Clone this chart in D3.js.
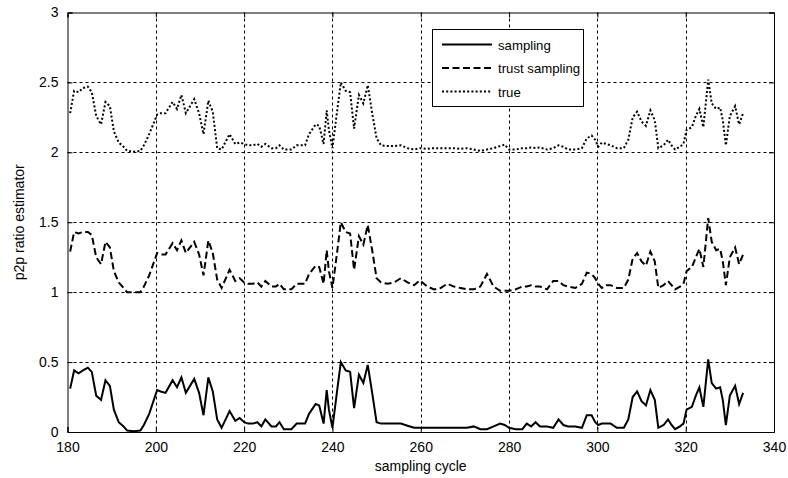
<!DOCTYPE html>
<html>
<head>
<meta charset="utf-8">
<script src="https://cdn.jsdelivr.net/npm/d3@7"></script>
<style>
  html, body { margin: 0; padding: 0; background: #fff; }
  svg { display: block; }
  text { font-family: "Liberation Sans", Arial, sans-serif; }
</style>
</head>
<body>
<svg id="chart" width="788" height="478"></svg>
<script>
const xValues = [180.6,181.5,182.5,183.5,184.6,185.5,186.5,187.6,188.6,189.6,
  190.5,191.6,192.7,193.5,195,196.5,197.3,198.5,200.3,201.1,
  202.2,203.8,204.8,205.8,206.8,208.7,209.8,210.8,211.9,212.9,
  213.9,214.9,216.7,218,219,220,220.9,222,223,223.9,
  224.8,226.2,227.2,228,229,230.7,231.9,233.8,234.7,236.2,
  237,238,238.7,239.2,240,241,241.9,243,244,244.9,
  246,247,248,249,250,251,252.5,254,255.5,257,
  258.5,259.8,261.5,263,264.5,266,267.5,269,270.5,272,
  273.5,275,276.5,278,279,280,281.5,283,284,285,
  286,287,288.6,290,291.2,292.3,293.4,295,296.5,297.6,
  298.7,299.5,300.2,301,302,303,304.4,306,307,308,
  309,310,311,312,313,313.8,315,316,316.8,317.6,
  318.7,319.5,320.2,321.4,322.3,323.1,324,325.1,325.9,326.9,
  327.8,328.4,329.1,330,331.2,332.1,333];

const sampling = [0.31,0.44,0.42,0.44,0.46,0.43,0.26,0.23,0.37,0.33,
  0.16,0.07,0.04,0.01,0.005,0.01,0.05,0.13,0.30,0.29,
  0.28,0.37,0.32,0.39,0.28,0.38,0.28,0.12,0.39,0.29,
  0.09,0.03,0.15,0.08,0.10,0.07,0.06,0.06,0.07,0.04,
  0.09,0.04,0.04,0.07,0.02,0.02,0.06,0.06,0.13,0.20,
  0.19,0.06,0.30,0.16,0.03,0.28,0.50,0.44,0.43,0.17,
  0.41,0.35,0.48,0.28,0.07,0.06,0.06,0.06,0.06,0.045,
  0.03,0.03,0.03,0.03,0.03,0.03,0.03,0.03,0.03,0.04,
  0.02,0.02,0.04,0.06,0.05,0.03,0.02,0.02,0.06,0.04,
  0.07,0.04,0.04,0.03,0.09,0.05,0.04,0.04,0.03,0.12,
  0.12,0.07,0.05,0.06,0.06,0.06,0.03,0.03,0.09,0.25,
  0.29,0.22,0.19,0.30,0.23,0.03,0.05,0.09,0.05,0.02,
  0.04,0.06,0.16,0.18,0.26,0.32,0.18,0.52,0.35,0.31,
  0.32,0.23,0.05,0.26,0.33,0.20,0.28];

const trustSampling = [1.29,1.43,1.42,1.43,1.43,1.41,1.25,1.20,1.36,1.32,
  1.15,1.07,1.03,1.00,1.00,1.00,1.04,1.12,1.28,1.27,
  1.27,1.35,1.30,1.37,1.28,1.36,1.27,1.12,1.37,1.28,
  1.09,1.03,1.16,1.08,1.10,1.07,1.06,1.06,1.07,1.04,
  1.08,1.04,1.04,1.06,1.02,1.02,1.06,1.06,1.13,1.19,
  1.18,1.06,1.30,1.15,1.03,1.27,1.50,1.43,1.42,1.16,
  1.40,1.34,1.48,1.30,1.10,1.07,1.06,1.07,1.10,1.07,
  1.05,1.085,1.04,1.02,1.03,1.06,1.04,1.03,1.02,1.02,
  1.04,1.13,1.04,1.01,1.01,1.01,1.02,1.04,1.04,1.05,
  1.04,1.04,1.02,1.08,1.08,1.05,1.04,1.03,1.06,1.14,
  1.13,1.10,1.06,1.03,1.05,1.05,1.03,1.03,1.09,1.24,
  1.28,1.22,1.19,1.29,1.22,1.03,1.05,1.08,1.05,1.02,
  1.04,1.06,1.15,1.18,1.25,1.31,1.18,1.53,1.36,1.30,
  1.31,1.22,1.05,1.25,1.32,1.20,1.27];

const trueValues = [2.28,2.44,2.43,2.46,2.47,2.43,2.26,2.20,2.36,2.33,
  2.15,2.07,2.04,2.01,2.005,2.01,2.05,2.13,2.27,2.28,
  2.28,2.36,2.31,2.41,2.28,2.38,2.28,2.13,2.37,2.29,
  2.03,2.02,2.13,2.06,2.07,2.06,2.05,2.05,2.06,2.04,
  2.06,2.03,2.03,2.05,2.02,2.02,2.05,2.05,2.13,2.20,
  2.19,2.06,2.30,2.16,2.03,2.28,2.50,2.44,2.43,2.17,
  2.41,2.35,2.48,2.28,2.10,2.05,2.045,2.045,2.05,2.03,
  2.02,2.03,2.025,2.03,2.03,2.03,2.03,2.025,2.03,2.02,
  2.01,2.02,2.03,2.045,2.055,2.02,2.02,2.03,2.03,2.035,
  2.03,2.035,2.02,2.03,2.05,2.04,2.02,2.02,2.03,2.10,
  2.12,2.09,2.04,2.07,2.06,2.05,2.03,2.03,2.09,2.25,
  2.29,2.22,2.19,2.30,2.23,2.03,2.05,2.09,2.05,2.02,
  2.04,2.06,2.16,2.18,2.26,2.31,2.18,2.52,2.35,2.31,
  2.32,2.23,2.05,2.26,2.33,2.20,2.28];

const xTicks = [180,200,220,240,260,280,300,320,340];
const yTicks = [0,0.5,1,1.5,2,2.5,3];
const yTickLabels = ["0","0.5","1","1.5","2","2.5","3"];
const seriesNames = ["sampling","trust sampling","true"];

const W = 788, H = 478;
const m = {left: 67.5, right: 14, top: 12.5, bottom: 46};
const svg = d3.select("#chart");
const x = d3.scaleLinear().domain([180,340]).range([m.left, W - m.right]);
const y = d3.scaleLinear().domain([0,3]).range([H - m.bottom, m.top]);

svg.append("rect").attr("width", W).attr("height", H).attr("fill", "#fff");

// grid
const grid = svg.append("g").attr("stroke", "#000").attr("stroke-width", 1)
  .attr("stroke-dasharray", "3,3").attr("fill", "none");
xTicks.slice(1, -1).forEach(t => {
  grid.append("line").attr("x1", Math.round(x(t)) + 0.5).attr("x2", Math.round(x(t)) + 0.5)
    .attr("y1", y(3)).attr("y2", y(0));
});
yTicks.slice(1, -1).forEach(t => {
  grid.append("line").attr("y1", Math.round(y(t)) + 0.5).attr("y2", Math.round(y(t)) + 0.5)
    .attr("x1", x(180)).attr("x2", x(340));
});

// axes
const fontSize = "14px";
const xAxis = d3.axisBottom(x).tickValues(xTicks).tickSize(-5).tickPadding(10).tickFormat(d3.format("d"));
const gx = svg.append("g").attr("transform", `translate(0,${y(0)})`).call(xAxis);
const yAxis = d3.axisLeft(y).tickValues(yTicks).tickSize(-5).tickPadding(9).tickFormat((d,i) => yTickLabels[i]);
const gy = svg.append("g").attr("transform", `translate(${x(180)},0)`).call(yAxis);
const gxTop = svg.append("g").attr("transform", `translate(0,${y(3)})`)
  .call(d3.axisTop(x).tickValues(xTicks).tickSize(-5).tickFormat(""));
const gyRight = svg.append("g").attr("transform", `translate(${x(340)},0)`)
  .call(d3.axisRight(y).tickValues(yTicks).tickSize(-5).tickFormat(""));
[gx, gy, gxTop, gyRight].forEach(g => {
  g.select(".domain").attr("stroke", "#000");
  g.selectAll(".tick line").attr("stroke", "#000");
  g.selectAll("text").attr("fill", "#000").style("font-size", fontSize)
    .style("font-family", '"Liberation Sans", Arial, sans-serif');
});

// lines
const dashes = [null, "7,3.5", "2,2.2"];
const allSeries = [sampling, trustSampling, trueValues];
const line = d3.line().x(d => x(d[0])).y(d => y(d[1]));
allSeries.forEach((vals, i) => {
  const pts = xValues.map((xv, j) => [xv, vals[j]]);
  svg.append("path").datum(pts).attr("d", line)
    .attr("fill", "none").attr("stroke", "#000").attr("stroke-width", 2)
    .attr("stroke-linejoin", "miter")
    .attr("stroke-dasharray", dashes[i]);
});

// legend
const lg = svg.append("g");
lg.append("rect").attr("x", 432.5).attr("y", 29.5).attr("width", 151).attr("height", 77)
  .attr("fill", "#fff").attr("stroke", "#000").attr("stroke-width", 1);
seriesNames.forEach((name, i) => {
  const yy = 44.5 + i * 23.5;
  lg.append("line").attr("x1", 442).attr("x2", 492).attr("y1", yy).attr("y2", yy)
    .attr("stroke", "#000").attr("stroke-width", 2).attr("stroke-dasharray", dashes[i]);
  lg.append("text").attr("x", 498).attr("y", yy + 5).text(name)
    .style("font-size", "13.2px").attr("fill", "#000");
});

// axis labels
svg.append("text").attr("x", (x(180) + x(340)) / 2).attr("y", 471).attr("text-anchor", "middle")
  .style("font-size", fontSize).text("sampling cycle");
svg.append("text").attr("transform", `translate(24,${(y(0) + y(3)) / 2}) rotate(-90)`)
  .attr("text-anchor", "middle").style("font-size", fontSize).text("p2p ratio estimator");
</script>
</body>
</html>
